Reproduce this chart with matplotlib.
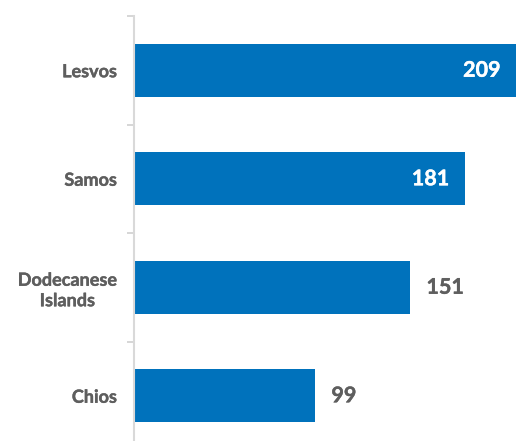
import os
import matplotlib.pyplot as plt
import matplotlib.patheffects as pe
from matplotlib import font_manager

plt.rcParams['font.family'] = ['Lato', 'DejaVu Sans']

islands = ["Lesvos", "Samos", "Dodecanese\nIslands", "Chios"]
arrivals = [209, 181, 151, 99]
inside = [True, True, False, False]

bar_color = "#0072bc"
text_color = "#5e5e5e"

# look for the plain Lato Bold file
lato_bold = None
for f in font_manager.fontManager.ttflist:
    if os.path.basename(f.fname).lower() in ("lato-bold.ttf", "lato-bold.otf"):
        lato_bold = f.fname
        break


def font(size):
    if lato_bold:
        return font_manager.FontProperties(fname=lato_bold, size=size)
    return font_manager.FontProperties(family="Lato", weight="bold", size=size)


def thicker(color):
    # matplotlib renders Lato Bold a bit thin, stroke it slightly
    return [pe.withStroke(linewidth=0.3, foreground=color)]


fig = plt.figure(figsize=(5.16, 4.41), dpi=100)
ax = fig.add_axes([134 / 516, 1 - 450 / 441, 1 - 134 / 516, 434 / 441])

pos = list(range(len(islands)))
ax.barh(pos, arrivals, height=0.49, color=bar_color)

for p, v, ins in zip(pos, arrivals, inside):
    if ins:
        ax.text(v - 8.5, p, str(v), ha="right", va="center", color="white",
                fontproperties=font(15.5), path_effects=thicker("white"))
    else:
        ax.text(v + 9, p, str(v), ha="left", va="center", color=text_color,
                fontproperties=font(15.5), path_effects=thicker(text_color))

ax.set_ylim(len(islands) - 0.5, -0.5)
ax.set_xlim(0, 209)
ax.set_yticks(pos)
ax.set_yticklabels(islands, fontproperties=font(13), color=text_color,
                   linespacing=1.25, multialignment="center")
for lbl in ax.get_yticklabels():
    lbl.set_path_effects(thicker(text_color))
ax.set_yticks([p - 0.5 for p in pos], minor=True)
ax.tick_params(axis="y", which="major", length=0, pad=17 * 0.72)
ax.tick_params(axis="y", which="minor", length=5, color="#d0d0d0", width=1.2)
ax.set_xticks([])

for s in ["top", "right", "bottom"]:
    ax.spines[s].set_visible(False)
ax.spines["left"].set_color("#d9d9d9")
ax.spines["left"].set_linewidth(1.5)

fig.savefig("out.png", dpi=100)
